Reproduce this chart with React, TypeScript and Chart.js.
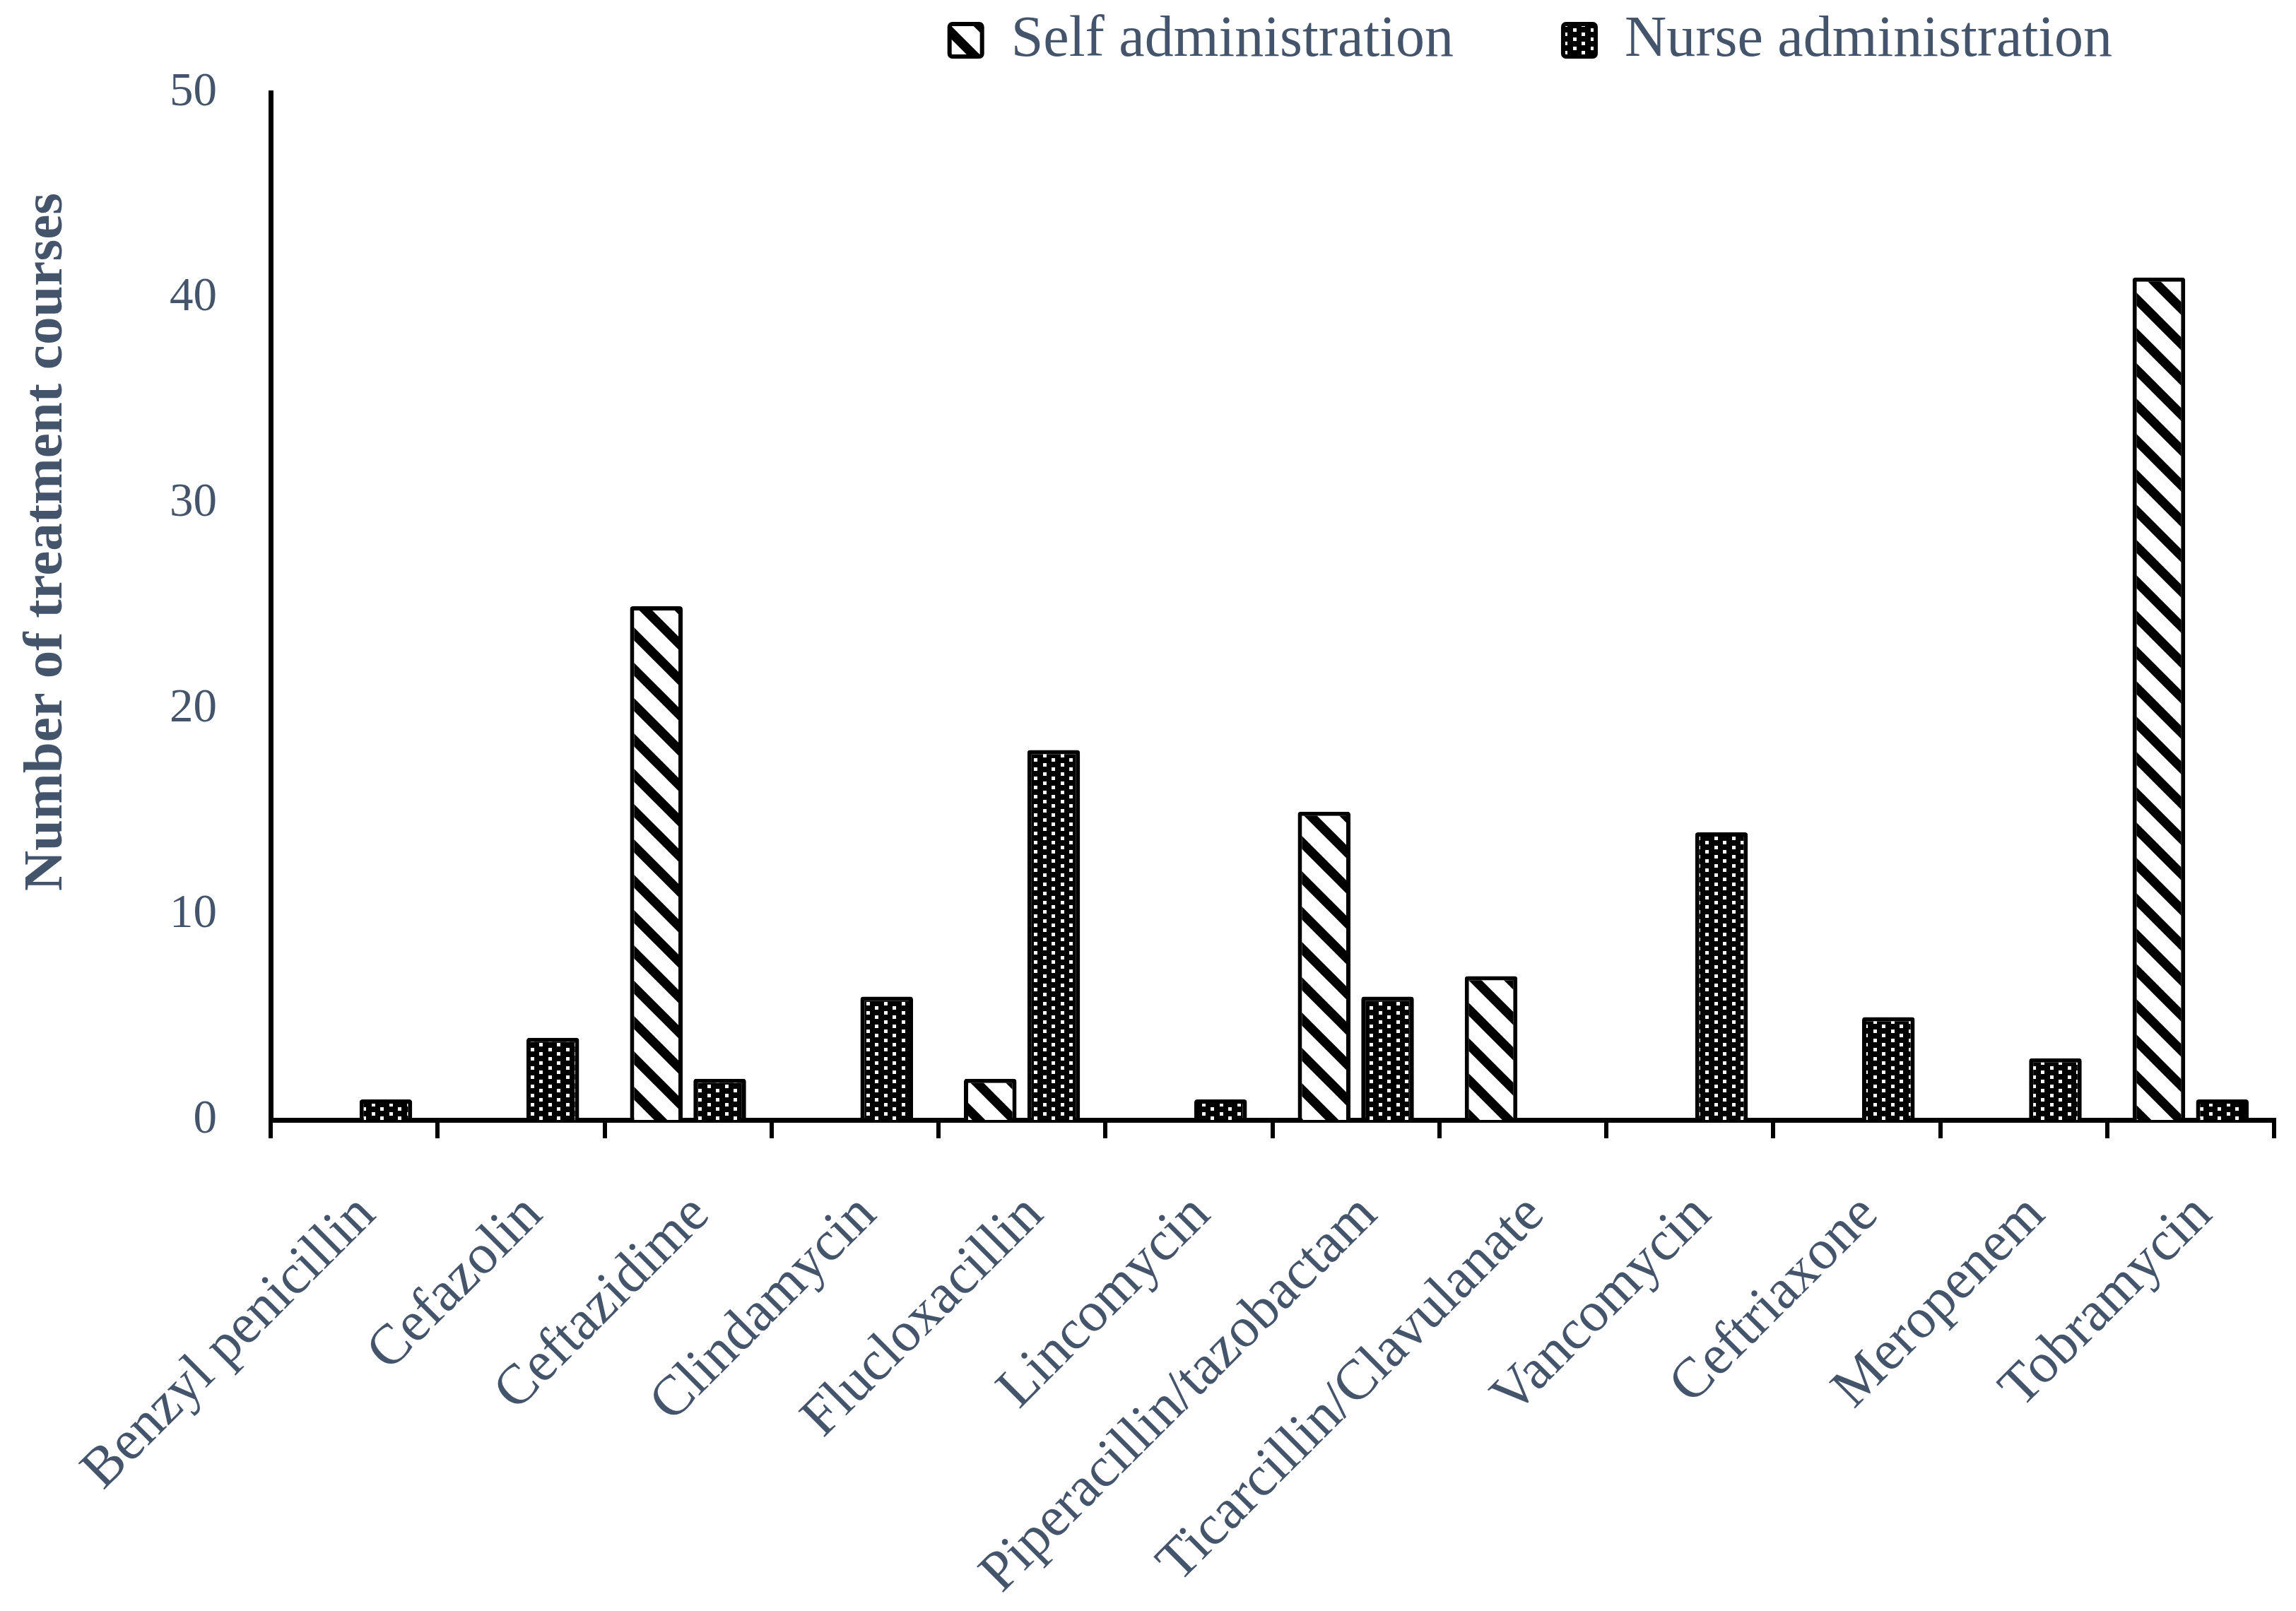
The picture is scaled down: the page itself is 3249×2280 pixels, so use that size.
import React, { useEffect, useRef } from 'react';
import { Chart, registerables } from 'chart.js';

Chart.register(...registerables);

// ---- data ----
const CATEGORIES = [
  'Benzyl penicillin',
  'Cefazolin',
  'Ceftazidime',
  'Clindamycin',
  'Flucloxacillin',
  'Lincomycin',
  'Piperacillin/tazobactam',
  'Ticarcillin/Clavulanate',
  'Vancomycin',
  'Ceftriaxone',
  'Meropenem',
  'Tobramycin',
];
const SELF_ADMIN = [0, 0, 25, 0, 2, 0, 15, 7, 0, 0, 0, 41];
const NURSE_ADMIN = [1, 4, 2, 6, 18, 1, 6, 0, 14, 5, 3, 1];
const SERIES_NAMES = ['Self administration', 'Nurse administration'];
const Y_TITLE = 'Number of treatment courses';
const Y_MIN = 0;
const Y_MAX = 50;
const Y_STEP = 10;

// ---- layout / style ----
const W = 3249;
const H = 2280;
const FONT = "'Liberation Serif', 'Times New Roman', serif";
const TEXT = '#44546A';
const PLOT_LEFT = 383;
const PLOT_RIGHT_PAD = 31;
const PLOT_TOP = 131;
const PLOT_BOTTOM = 1585;
const TITLE_SIZE = 79;
const TITLE_PAD = 19;
const TITLE_CY = 767;
const LEGEND_FONT = 82;
const LEGEND_PAD = 155;
const LEGEND_DX = -74;
const LEGEND_DY = -139;

function makeStripes(ctx: CanvasRenderingContext2D) {
  const s = 50;
  const c = document.createElement('canvas');
  c.width = s;
  c.height = s;
  const g = c.getContext('2d')!;
  g.fillStyle = '#fff';
  g.fillRect(0, 0, s, s);
  g.strokeStyle = '#000';
  g.lineWidth = 13;
  for (const k of [-1, 0, 1]) {
    g.beginPath();
    g.moveTo(k * s - 10, -10);
    g.lineTo(k * s + s + 10, s + 10);
    g.stroke();
  }
  return ctx.createPattern(c, 'repeat')!;
}

function makeDots(ctx: CanvasRenderingContext2D) {
  const w = 25;
  const h = 13;
  const c = document.createElement('canvas');
  c.width = w;
  c.height = h;
  const g = c.getContext('2d')!;
  g.fillStyle = '#000';
  g.fillRect(0, 0, w, h);
  g.fillStyle = '#fff';
  g.fillRect(1, 1, 5, 5);
  g.fillRect(13, 7, 5, 5);
  return ctx.createPattern(c, 'repeat')!;
}

const placeBlocks = {
  id: 'placeBlocks',
  afterLayout(chart: any) {
    const lg = chart.legend;
    if (lg) {
      lg.left += LEGEND_DX;
      lg.right += LEGEND_DX;
      lg.top += LEGEND_DY;
    }
    const tb = chart.titleBlock;
    if (tb) {
      tb.top = TITLE_CY - 600;
      tb.bottom = TITLE_CY + 600;
    }
  },
};

export default function App() {
  const ref = useRef<HTMLCanvasElement>(null);

  useEffect(() => {
    document.body.style.margin = '0';
    const canvas = ref.current!;
    const ctx = canvas.getContext('2d')!;
    const stripes = makeStripes(ctx);
    const dots = makeDots(ctx);
    const titleWidth = TITLE_SIZE * 1.2 + TITLE_PAD;

    const chart = new Chart(canvas, {
      type: 'bar',
      data: {
        labels: CATEGORIES,
        datasets: [
          {
            label: SERIES_NAMES[0],
            data: SELF_ADMIN,
            backgroundColor: stripes as any,
            borderColor: '#000',
            borderWidth: 6,
            borderRadius: 4,
            categoryPercentage: 0.76,
            barPercentage: 0.83,
          },
          {
            label: SERIES_NAMES[1],
            data: NURSE_ADMIN,
            backgroundColor: dots as any,
            borderColor: '#000',
            borderWidth: 6,
            borderRadius: 4,
            categoryPercentage: 0.76,
            barPercentage: 0.83,
          },
        ],
      },
      options: {
        responsive: false,
        animation: false,
        devicePixelRatio: 1,
        layout: { padding: { left: 0, right: PLOT_RIGHT_PAD, top: 0, bottom: 0 } },
        plugins: {
          tooltip: { enabled: false },
          title: {
            display: true,
            text: Y_TITLE,
            position: 'left',
            align: 'center',
            fullSize: false,
            color: TEXT,
            font: { family: FONT, size: TITLE_SIZE, weight: 'bold', lineHeight: 1.2 },
            padding: { top: TITLE_PAD, bottom: 0 },
          },
          legend: {
            display: true,
            position: 'top',
            align: 'end',
            maxHeight: PLOT_TOP,
            labels: {
              color: TEXT,
              font: { family: FONT, size: LEGEND_FONT },
              boxWidth: 46,
              boxHeight: 46,
              padding: LEGEND_PAD,
              useBorderRadius: true,
              borderRadius: 4,
            },
          },
        },
        scales: {
          x: {
            type: 'category',
            offset: true,
            grid: {
              display: true,
              offset: true,
              drawOnChartArea: false,
              drawTicks: true,
              tickLength: 26,
              lineWidth: 6,
              color: '#000',
              tickColor: '#000',
            },
            border: { display: true, color: '#000', width: 7 },
            ticks: {
              color: TEXT,
              font: { family: FONT, size: 80 },
              minRotation: 45,
              maxRotation: 45,
              autoSkip: false,
              padding: 62,
              labelOffset: 18,
            },
            afterFit: (scale: any) => {
              scale.height = H - PLOT_BOTTOM;
            },
          },
          y: {
            min: Y_MIN,
            max: Y_MAX,
            grid: { display: false, drawTicks: false },
            border: { display: true, color: '#000', width: 7 },
            ticks: {
              stepSize: Y_STEP,
              color: TEXT,
              font: { family: FONT, size: 67 },
              padding: 76,
            },
            afterFit: (scale: any) => {
              scale.width = PLOT_LEFT - titleWidth;
            },
          },
        },
      },
      plugins: [placeBlocks],
    } as any);

    return () => chart.destroy();
  }, []);

  return (
    <div style={{ position: 'absolute', left: 0, top: 0, width: W, height: H, background: '#fff' }}>
      <canvas ref={ref} width={W} height={H} style={{ width: W, height: H, display: 'block' }} />
    </div>
  );
}
